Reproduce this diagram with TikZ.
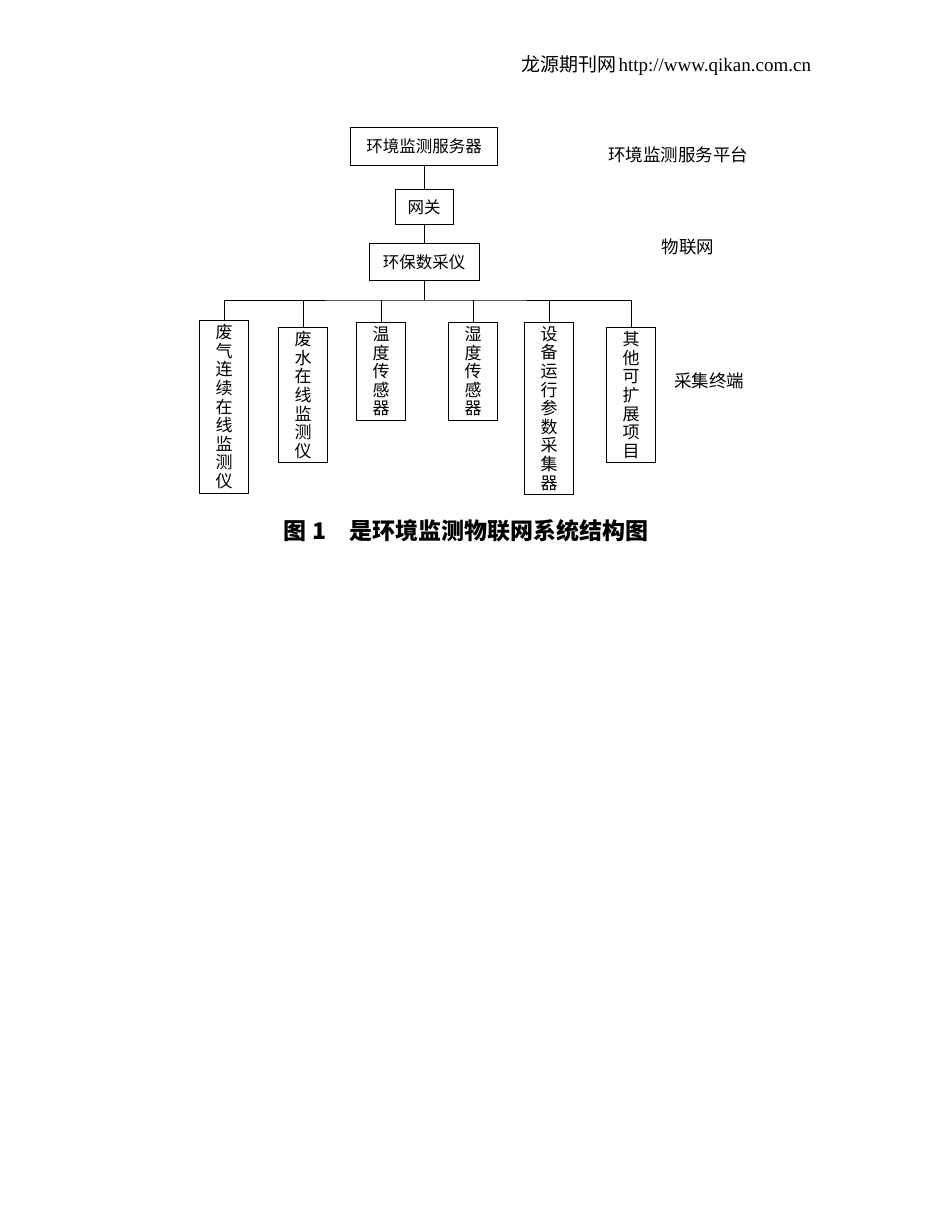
\documentclass[tikz,border=0pt]{standalone}
\usepackage{fontspec}
\setmainfont{Liberation Serif}
\newfontfamily\cjk{Noto Sans CJK SC}
\begin{document}
\begin{tikzpicture}[x=1pt,y=-1pt,
    unit/.style ={rectangle, draw, thick, font=\cjk\fontsize{16.5}{18}\selectfont, inner sep=0pt},
    terminal/.style ={rectangle, draw, thick, minimum width=49pt, anchor=north, align=center,
      inner sep=4pt, font=\cjk\fontsize{17}{18.6}\selectfont},
    layer/.style ={font=\cjk\fontsize{17.5}{18}\selectfont}]
   \useasboundingbox (0,0) rectangle (950,1230);
   \node (header) at (666,66) {{\cjk\fontsize{19}{20}\selectfont 龙源期刊网} \fontsize{19}{20}\selectfont http://www.qikan.com.cn};

   \node[unit, minimum width=147pt, minimum height=38pt] (server) at (424,146) {环境监测服务器};
   \node[unit, minimum width=58pt, minimum height=35pt] (gateway) at (424,207) {网关};
   \node[unit, minimum width=110pt, minimum height=37pt] (collector) at (424,262) {环保数采仪};

   \node[layer] (platform) at (678,155) {环境监测服务平台};
   \node[layer] (iot) at (688,247) {物联网};
   \node[layer] (terminals) at (709,381) {采集终端};

   \node[terminal] (T1) at (224,320) {废\\气\\连\\续\\在\\线\\监\\测\\仪};
   \node[terminal] (T2) at (303,327) {废\\水\\在\\线\\监\\测\\仪};
   \node[terminal] (T3) at (381,322) {温\\度\\传\\感\\器};
   \node[terminal] (T4) at (473,322) {湿\\度\\传\\感\\器};
   \node[terminal] (T5) at (549,322) {设\\备\\运\\行\\参\\数\\采\\集\\器};
   \node[terminal] (T6) at (631,327) {其\\他\\可\\扩\\展\\项\\目};

   \coordinate (bus) at (424,300);
   \draw[thick] (server) to (gateway);
   \draw[thick] (gateway) to (collector);
   \draw[thick] (collector) to (bus);
   \draw[thick] (T1.north) |- (bus) -| (T6.north);
   \draw[thick] (T2.north) to (T2.north |- bus);
   \draw[thick] (T3.north) to (T3.north |- bus);
   \draw[thick] (T4.north) to (T4.north |- bus);
   \draw[thick] (T5.north) to (T5.north |- bus);

   \node (caption) at (466,531) {\cjk\bfseries\fontsize{23}{26}\selectfont 图 1\quad 是环境监测物联网系统结构图};
 \end{tikzpicture}
\end{document}
